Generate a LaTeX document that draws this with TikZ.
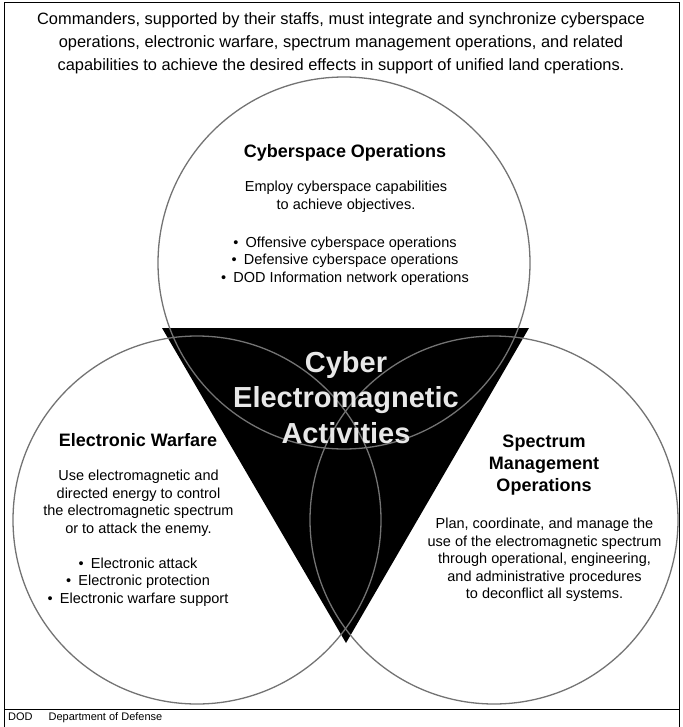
\documentclass[tikz,border=0pt]{standalone}
\usepackage{fontspec}
\setmainfont{Liberation Sans}
\begin{document}
\begin{tikzpicture}[x=1pt, y=-1pt,
  ring/.style={draw=black!55, line width=1.3pt},
  headtext/.style={align=center, font=\fontsize{16.4}{23}\selectfont},
  ringtitle/.style={align=center, font=\bfseries\fontsize{18}{22}\selectfont},
  ringtext/.style={align=center, font=\fontsize{14.5}{17.5}\selectfont},
  coretext/.style={align=center, text=black!9, font=\bfseries\fontsize{29}{35.5}\selectfont}]
  \useasboundingbox (0,0) rectangle (682,727);
  % frame
  \draw[line width=1pt] (4,727) |- (679,3) -- (679,727);
  \draw[line width=0.8pt] (4,709) -- (679,709);
  % black triangle and the three rings
  \fill[black] (162,328) -- (529,328) -- (346,643) -- cycle;
  \draw[ring] (344,263) circle[radius=186];
  \draw[ring] (197,520) circle[radius=184];
  \draw[ring] (494,520) circle[radius=184];
  % header
  \node[headtext] (head) at (341,43) {Commanders, supported by their staffs, must integrate and synchronize cyberspace\\
    operations, electronic warfare, spectrum management operations, and related\\
    capabilities to achieve the desired effects in support of unified land cperations.};
  % cyberspace operations
  \node[ringtitle] (cyotitle) at (345,153) {Cyberspace Operations};
  \node[ringtext, font=\fontsize{14.5}{18}\selectfont] (cyodesc) at (346,197) {Employ cyberspace capabilities\\to achieve objectives.};
  \node[ringtext] (cyolist) at (345,261) {\textbullet\enspace Offensive cyberspace operations\\
    \textbullet\enspace Defensive cyberspace operations\\
    \textbullet\enspace DOD Information network operations};
  % electronic warfare
  \node[ringtitle] (ewtitle) at (138,440) {Electronic Warfare};
  \node[ringtext] (ewdesc) at (138.5,503) {Use electromagnetic and\\directed energy to control\\the electromagnetic spectrum\\or to attack the enemy.};
  \node[ringtext] (ewlist) at (138,582) {\textbullet\enspace Electronic attack\\
    \textbullet\enspace Electronic protection\\
    \textbullet\enspace Electronic warfare support};
  % spectrum management operations
  \node[ringtitle] (smotitle) at (544,465) {Spectrum\\Management\\Operations};
  \node[ringtext] (smodesc) at (544.5,560) {Plan, coordinate, and manage the\\use of the electromagnetic spectrum\\through operational, engineering,\\and administrative procedures\\to deconflict all systems.};
  % centre
  \node[coretext] (cema) at (346,397.5) {Cyber\\Electromagnetic\\Activities};
  % footer
  \node[anchor=west, inner sep=0pt, font=\fontsize{11}{13}\selectfont] (dod) at (8,717.5) {DOD\hspace{1.45em}Department of Defense};
\end{tikzpicture}
\end{document}
